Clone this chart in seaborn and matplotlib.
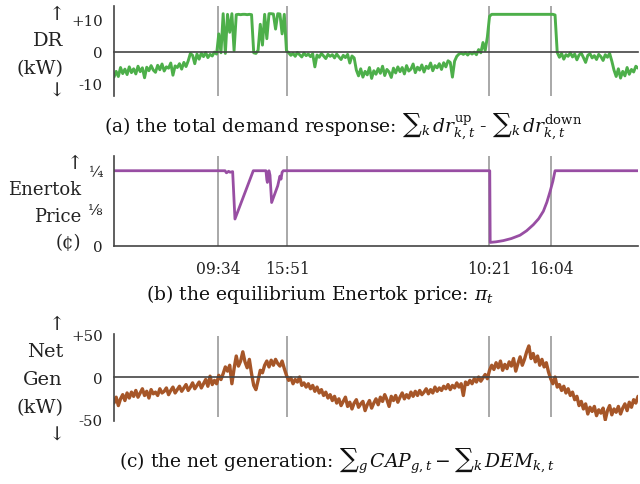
import numpy as np
import pandas as pd
import matplotlib
matplotlib.use('Agg')
import matplotlib.pyplot as plt
import seaborn as sns

# time axis: 48 hours, one reading every 12 minutes
hours = np.round(np.arange(241) * 0.2, 1)

# (a) total demand response, kW
dr_kw = [
    -8.0, -6.2, -7.8, -5.0, -6.9, -5.5, -7.2, -4.8, -6.6, -5.4,
    -7.0, -4.6, -6.3, -5.1, -8.2, -4.9, -6.0, -4.4, -5.8, -6.5,
    -4.3, -5.7, -3.9, -6.1, -4.8, -5.2, -3.6, -7.4, -4.5, -5.0,
    -3.8, -5.5, -3.4, -4.7, -2.9, -0.6, -1.2, -3.8, -0.8, -2.4,
    -0.5, -1.6, -0.3, -1.9, -0.9, -1.4, -0.2, -0.8, 5.5, -0.4,
    11.8, -0.6, 11.6, 6.0, 11.8, 0.3, 11.5, 11.6, 11.5, 11.6,
    11.6, 11.5, 11.6, 11.5, -0.4, -0.6, 0.4, 8.5, 2.0, 11.6,
    4.0, 11.8, 11.8, 11.7, 7.0, 11.8, 11.7, 5.5, 11.6, 0.2,
    -0.4, -1.2, -0.6, -1.5, -0.3, -1.0, -1.7, -0.5, -1.3, -0.8,
    -1.6, -0.7, -4.8, -1.1, -1.8, -0.6, -1.4, -2.2, -0.9, -1.5,
    -1.0, -2.0, -0.8, -1.7, -2.5, -1.2, -1.9, -0.9, -3.6, -1.4,
    -2.0, -5.8, -7.6, -5.4, -8.0, -6.2, -7.3, -5.0, -8.4, -6.0,
    -7.1, -5.3, -6.8, -4.6, -7.5, -5.6, -6.4, -8.1, -5.2, -6.7,
    -4.8, -6.3, -5.0, -7.0, -4.4, -6.1, -5.5, -3.9, -6.6, -4.9,
    -5.8, -4.2, -6.4, -4.6, -5.3, -3.6, -6.0, -4.4, -5.1, -3.8,
    -5.6, -3.5, -4.8, -2.9, -3.4, -8.0, -3.0, -1.5, -0.8, -0.5,
    -0.9, -0.4, -1.1, -0.3, -0.8, -0.2, -1.0, 0.6, -0.4, 2.8,
    0.3, 4.5, 11.0, 11.6, 11.6, 11.6, 11.6, 11.6, 11.6, 11.6,
    11.6, 11.6, 11.6, 11.6, 11.6, 11.6, 11.6, 11.6, 11.6, 11.6,
    11.6, 11.6, 11.6, 11.6, 11.6, 11.6, 11.6, 11.6, 11.6, 11.6,
    11.6, 11.6, 11.4, -0.3, -1.8, -0.6, -2.4, -1.0, -1.5, -0.4,
    -1.7, -0.8, -2.6, -1.1, -0.5, -1.9, -3.4, -1.2, -0.7, -2.0,
    -1.3, -2.5, -0.9, -1.6, -2.8, -1.0, -1.8, -0.6, -3.0, -5.8,
    -7.8, -5.4, -8.3, -6.2, -7.6, -5.0, -7.1, -5.6, -6.4, -4.6, -5.2,
]

# (c) net generation, kW
net_gen_kw = [
    -31, -24, -34, -26, -21, -28, -19, -25, -18, -23,
    -16, -24, -19, -14, -22, -17, -25, -15, -20, -18,
    -22, -14, -19, -17, -13, -21, -16, -12, -19, -15,
    -11, -17, -13, -9, -16, -12, -7, -14, -10, -6,
    -13, -8, -3, -11, 1, -9, -4, -8, 2, -3,
    4, 12, 7, 14, -8, 10, 25, 13, 19, 30,
    18, 11, 21, 4, -10, -15, -4, 8, 5, 14,
    19, 12, 20, 14, 21, 16, 13, 19, 10, 2,
    -4, -1, -8, -3, -6, 0, -10, -7, -12, -8,
    -14, -10, -17, -12, -19, -15, -22, -18, -25, -21,
    -28, -23, -31, -26, -34, -29, -24, -35, -30, -38,
    -31, -27, -36, -32, -29, -40, -33, -28, -37, -31,
    -26, -33, -24, -29, -21, -27, -35, -23, -28, -22,
    -30, -24, -19, -26, -21, -25, -18, -23, -17, -22,
    -16, -21, -18, -14, -20, -15, -19, -12, -17, -13,
    -16, -11, -14, -9, -15, -10, -13, -7, -12, -8,
    -22, -6, -9, -4, -8, -2, -6, 0, -5, -1,
    3, -2, 8, 14, 9, 17, 11, 19, 8, 15,
    10, 18, 13, 22, 7, 16, 24, 14, 21, 30,
    37, 22, 28, 18, 25, 14, 21, 12, 17, 6,
    -2, -8, 0, -12, -9, -16, -11, -19, -14, -22,
    -18, -27, -23, -34, -29, -38, -32, -44, -36, -41,
    -35, -46, -39, -43, -37, -51, -40, -34, -45, -38,
    -42, -35, -44, -37, -32, -40, -30, -36, -27, -31, -23,
]

# (b) equilibrium Enertok price, cents
price_hours = [0, 10.17, 10.3, 10.5, 10.63, 10.87, 11.08, 12.76, 13.92, 14.0,
               14.05, 14.12, 14.2, 14.29, 14.44, 15.0, 15.2, 15.3, 15.4, 15.51,
               34.42, 34.46, 35.0, 35.66, 36.4, 37.19, 37.8, 38.41, 38.9, 39.33,
               39.65, 39.94, 40.2, 40.4, 48]
price_cents = [0.25, 0.25, 0.243, 0.248, 0.245, 0.247, 0.089, 0.25, 0.25, 0.22,
               0.211, 0.245, 0.25, 0.235, 0.144, 0.2, 0.232, 0.222, 0.245, 0.25,
               0.25, 0.011, 0.013, 0.017, 0.024, 0.035, 0.05, 0.07, 0.09, 0.115,
               0.145, 0.18, 0.215, 0.25, 0.25]

event_hours = [9 + 34 / 60, 15 + 51 / 60, 34 + 21 / 60, 40 + 4 / 60]
event_labels = ['09:34', '15:51', '10:21', '16:04']

sns.set_style('white')
plt.rcParams['font.family'] = ['DejaVu Serif']
plt.rcParams['mathtext.fontset'] = 'dejavuserif'

spine_col = '#444444'
fig = plt.figure(figsize=(6.4, 4.85), dpi=100)
ax_dr = fig.add_axes([0.1781, 0.8006, 0.8188, 0.1856])
ax_pr = fig.add_axes([0.1781, 0.4913, 0.8188, 0.1843])
ax_ng = fig.add_axes([0.1781, 0.1305, 0.8188, 0.1788])


def style(ax, ylim, yticks, ylabels):
    ax.set_xlim(0, 48)
    ax.set_ylim(*ylim)
    for s in ['top', 'right']:
        ax.spines[s].set_visible(False)
    for s in ['left', 'bottom']:
        ax.spines[s].set_color(spine_col)
        ax.spines[s].set_linewidth(1.2)
    ax.set_yticks(yticks)
    ax.set_yticklabels(ylabels, fontsize=10.8, color='#222222')
    ax.tick_params(axis='y', direction='in', length=4, width=1.2, color=spine_col, pad=8)
    ax.set_xlabel('')
    ax.set_ylabel('')


# (a)
for h in event_hours:
    ax_dr.axvline(h, color='#9a9a9a', lw=1.2, zorder=1)
sns.lineplot(x=hours, y=dr_kw, ax=ax_dr, color='#4daf4a', lw=2.1, estimator=None, zorder=2)
style(ax_dr, (-13.8, 14.3), [-10, 0, 10], ['-10', '0', '+10'])
ax_dr.spines['bottom'].set_position(('data', 0))
ax_dr.set_xticks(range(0, 49, 8))
ax_dr.set_xticklabels([])
ax_dr.tick_params(axis='x', direction='in', length=4, width=1.2, color=spine_col)

# (b)
for h in event_hours:
    ax_pr.axvline(h, color='#9a9a9a', lw=1.2, zorder=1)
sns.lineplot(x=price_hours, y=price_cents, ax=ax_pr, color='#984ea3', lw=2.0, estimator=None, zorder=2)
style(ax_pr, (0, 0.298), [0, 0.125, 0.25], ['0', '⅛', '¼'])
ax_pr.set_xticks(event_hours)
ax_pr.set_xticklabels(event_labels, fontsize=11.2, color='#222222')
ax_pr.tick_params(axis='x', length=0, pad=10)

# (c)
ax_ng.vlines(event_hours, -47.5, 49, color='#9a9a9a', lw=1.2, zorder=1)
sns.lineplot(x=hours, y=net_gen_kw, ax=ax_ng, color='#a65628', lw=2.4, estimator=None, zorder=2)
style(ax_ng, (-52, 51.2), [-50, 0, 50], ['-50', '0', '+50'])
ax_ng.spines['bottom'].set_position(('data', 0))
ax_ng.set_xticks(range(0, 49, 8))
ax_ng.set_xticklabels([])
ax_ng.tick_params(axis='x', direction='in', length=4, width=1.2, color=spine_col)


def ftext(x, y, s, ha='right', size=14, **kw):
    fig.text(x / 640, 1 - y / 485, s, ha=ha, va='center', fontsize=size, color='#222222', **kw)


# y labels with arrows
ftext(57, 15, '↑', ha='center')
ftext(63, 41, 'DR')
ftext(63, 69, '(kW)')
ftext(57, 92, '↓', ha='center')

ftext(75, 164, '↑', ha='center')
ftext(81, 190, 'Enertok', size=13)
ftext(81, 217, 'Price', size=13)
ftext(81, 243, '(¢)', size=13)

ftext(57, 325, '↑', ha='center')
ftext(63, 352, 'Net')
ftext(63, 380, 'Gen')
ftext(63, 408, '(kW)')
ftext(57, 436, '↓', ha='center')

# captions
cap_a = r'(a) the total demand response: ${\sum}_k\, dr^{\mathrm{up}}_{k,t}$ - ${\sum}_k\, dr^{\mathrm{down}}_{k,t}$'
cap_b = r'(b) the equilibrium Enertok price: $\pi_t$'
cap_c = r'(c) the net generation: ${\sum}_g\, CAP_{g,t} - {\sum}_k\, DEM_{k,t}$'
for x, y, s in [(343, 132.5, cap_a), (320, 300, cap_b), (337, 467, cap_c)]:
    fig.text(x / 640, 1 - y / 485, s, ha='center', va='baseline', fontsize=13.5, color='#111111')

fig.savefig('out.png', dpi=100)
